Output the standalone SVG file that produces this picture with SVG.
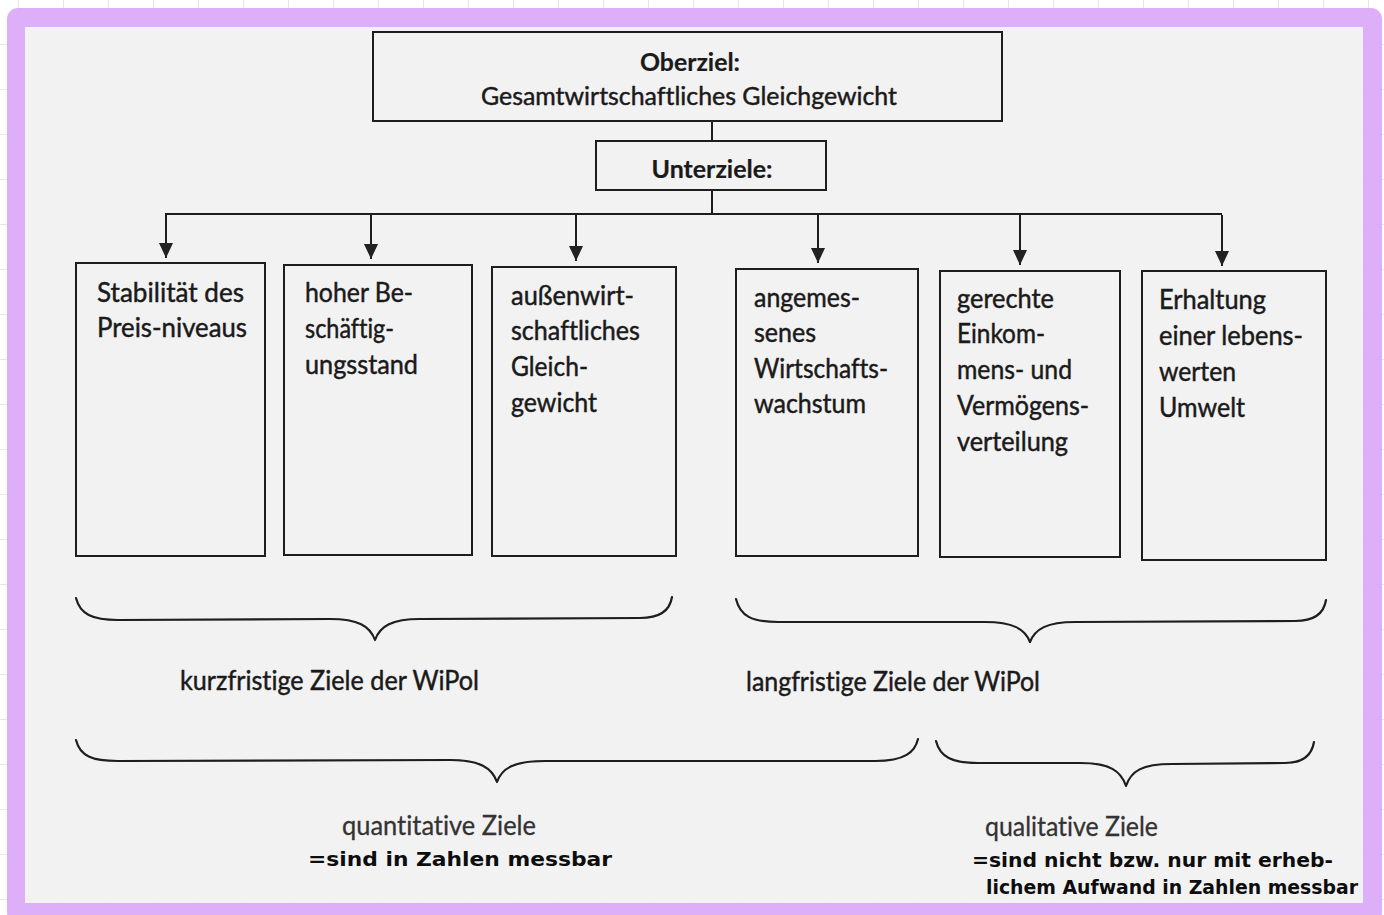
<svg xmlns="http://www.w3.org/2000/svg" width="1384" height="915" viewBox="0 0 1384 915">
  <defs>
    <pattern id="grid" x="18" y="0" width="45" height="45" patternUnits="userSpaceOnUse">
      <path d="M0,0 V45 M0,45 H45" fill="none" stroke="#cfcfcf" stroke-width="1"/>
    </pattern>
    <marker id="arrDown" markerUnits="userSpaceOnUse" markerWidth="16" markerHeight="14" refX="15" refY="7" orient="auto" viewBox="0 0 16 14">
      <path d="M0,0 L15,7 L0,14 Z" fill="#222"/>
    </marker>
  </defs>
  <style>
    .box { fill: none; stroke: #1e1e1e; stroke-width: 2; }
    .conn { fill: none; stroke: #1e1e1e; stroke-width: 2; }
    .brace { fill: none; stroke: #1e1e1e; stroke-width: 2.2; stroke-linecap: round; stroke-linejoin: round; }
    .t, .h { font-family: Lato, "Liberation Sans", "DejaVu Sans", sans-serif; fill: #1a1a1a; stroke: #1a1a1a; stroke-width: 0.45; font-variant-ligatures: none; font-feature-settings: "liga" 0, "clig" 0; }
    .t { font-size: 26px; }
    .h { font-size: 25px; }
    .bold { font-weight: bold; stroke-width: 0.2; }
    .g { fill: #333333; stroke: #333333; stroke-width: 0.3; }
    .hw { font-family: "DejaVu Sans", "Liberation Sans", sans-serif; font-weight: bold; font-size: 20px; fill: #0d0d0d; }
  </style>

  <!-- background -->
  <rect x="0" y="0" width="1384" height="915" fill="#ffffff"/>
  <rect x="0" y="0" width="1384" height="915" fill="url(#grid)"/>
  <rect x="7" y="8" width="1375" height="915" rx="11" ry="11" fill="#dba9f9" fill-opacity="0.93"/>
  <rect x="25" y="27" width="1338" height="876" fill="#f3f2f2"/>

  <!-- connectors -->
  <g id="connectors">
    <line class="conn" x1="712" y1="121" x2="712" y2="141"/>
    <line class="conn" x1="712" y1="190" x2="712" y2="214"/>
    <polyline class="conn" points="166,214 1222,214"/>
    <line class="conn" x1="166" y1="213" x2="166" y2="258" marker-end="url(#arrDown)"/>
    <line class="conn" x1="371" y1="213" x2="371" y2="259" marker-end="url(#arrDown)"/>
    <line class="conn" x1="576" y1="214" x2="576" y2="261" marker-end="url(#arrDown)"/>
    <line class="conn" x1="818" y1="214" x2="818" y2="263" marker-end="url(#arrDown)"/>
    <line class="conn" x1="1020" y1="215" x2="1020" y2="265" marker-end="url(#arrDown)"/>
    <line class="conn" x1="1222" y1="215" x2="1222" y2="266" marker-end="url(#arrDown)"/>
  </g>

  <!-- top nodes -->
  <g id="oberziel">
    <rect class="box" x="373" y="32" width="629" height="89"/>
    <text class="h bold" x="690" y="71" text-anchor="middle" textLength="100" lengthAdjust="spacingAndGlyphs">Oberziel:</text>
    <text class="h" x="689" y="105" text-anchor="middle" textLength="416" lengthAdjust="spacingAndGlyphs">Gesamtwirtschaftliches Gleichgewicht</text>
  </g>
  <g id="unterziele">
    <rect class="box" x="596" y="141" width="230" height="49"/>
    <text class="h bold" x="712" y="178" text-anchor="middle" textLength="121" lengthAdjust="spacingAndGlyphs">Unterziele:</text>
  </g>

  <!-- goal boxes -->
  <g id="preisniveau">
    <rect class="box" x="76" y="263" width="189" height="293"/>
    <text class="t" x="97" y="302" textLength="147" lengthAdjust="spacingAndGlyphs">Stabilität des</text>
    <text class="t" x="97" y="337" textLength="150" lengthAdjust="spacingAndGlyphs">Preis-niveaus</text>
  </g>
  <g id="beschaeftigung">
    <rect class="box" x="284" y="265" width="188" height="290"/>
    <text class="t" x="305" y="302" textLength="108" lengthAdjust="spacingAndGlyphs">hoher Be-</text>
    <text class="t" x="305" y="338" textLength="89" lengthAdjust="spacingAndGlyphs">schäftig-</text>
    <text class="t" x="305" y="374" textLength="113" lengthAdjust="spacingAndGlyphs">ungsstand</text>
  </g>
  <g id="aussenwirtschaft">
    <rect class="box" x="492" y="267" width="184" height="289"/>
    <text class="t" x="511" y="305" textLength="123" lengthAdjust="spacingAndGlyphs">außenwirt-</text>
    <text class="t" x="511" y="340" textLength="129" lengthAdjust="spacingAndGlyphs">schaftliches</text>
    <text class="t" x="511" y="376" textLength="77" lengthAdjust="spacingAndGlyphs">Gleich-</text>
    <text class="t" x="511" y="412" textLength="86" lengthAdjust="spacingAndGlyphs">gewicht</text>
  </g>
  <g id="wachstum">
    <rect class="box" x="736" y="269" width="182" height="287"/>
    <text class="t" x="754" y="307" textLength="106" lengthAdjust="spacingAndGlyphs">angemes-</text>
    <text class="t" x="754" y="342" textLength="62" lengthAdjust="spacingAndGlyphs">senes</text>
    <text class="t" x="754" y="378" textLength="134" lengthAdjust="spacingAndGlyphs">Wirtschafts-</text>
    <text class="t" x="754" y="413" textLength="112" lengthAdjust="spacingAndGlyphs">wachstum</text>
  </g>
  <g id="verteilung">
    <rect class="box" x="940" y="271" width="180" height="286"/>
    <text class="t" x="957" y="308" textLength="97" lengthAdjust="spacingAndGlyphs">gerechte</text>
    <text class="t" x="957" y="343" textLength="88" lengthAdjust="spacingAndGlyphs">Einkom-</text>
    <text class="t" x="957" y="379" textLength="115" lengthAdjust="spacingAndGlyphs">mens- und</text>
    <text class="t" x="957" y="415" textLength="132" lengthAdjust="spacingAndGlyphs">Vermögens-</text>
    <text class="t" x="957" y="451" textLength="111" lengthAdjust="spacingAndGlyphs">verteilung</text>
  </g>
  <g id="umwelt">
    <rect class="box" x="1142" y="271" width="184" height="289"/>
    <text class="t" x="1159" y="309" textLength="107" lengthAdjust="spacingAndGlyphs">Erhaltung</text>
    <text class="t" x="1159" y="345" textLength="144" lengthAdjust="spacingAndGlyphs">einer lebens-</text>
    <text class="t" x="1159" y="381" textLength="77" lengthAdjust="spacingAndGlyphs">werten</text>
    <text class="t" x="1159" y="417" textLength="86" lengthAdjust="spacingAndGlyphs">Umwelt</text>
  </g>

  <!-- braces -->
  <g id="brace-kurzfristig">
    <path class="brace" d="M76,598 C80,614 92,620 118,620 L330,619 C358,619 370,626 375,640 C380,626 392,619 420,619 L640,618 C660,618 670,610 672,597"/>
    <text class="t" x="180" y="690" textLength="299" lengthAdjust="spacingAndGlyphs">kurzfristige Ziele der WiPol</text>
  </g>
  <g id="brace-langfristig">
    <path class="brace" d="M736,599 C740,616 752,622 778,622 L985,622 C1013,622 1025,629 1030,642 C1035,629 1047,622 1075,622 L1295,621 C1315,621 1324,613 1326,600"/>
    <text class="t" x="746" y="691" textLength="294" lengthAdjust="spacingAndGlyphs">langfristige Ziele der WiPol</text>
  </g>
  <g id="brace-quantitativ">
    <path class="brace" d="M76,740 C80,756 92,761 118,761 L450,760 C480,760 492,768 497,782 C502,768 514,761 545,761 L875,761 C905,761 915,752 918,739"/>
    <text class="t g" x="342" y="835" textLength="194" lengthAdjust="spacingAndGlyphs">quantitative Ziele</text>
    <text class="hw" x="308" y="866" textLength="304" lengthAdjust="spacingAndGlyphs">=sind in Zahlen messbar</text>
  </g>
  <g id="brace-qualitativ">
    <path class="brace" d="M936,741 C940,757 952,763 978,763 L1080,763 C1110,763 1121,771 1126,786 C1131,771 1142,764 1172,764 L1285,763 C1305,763 1312,754 1314,742"/>
    <text class="t g" x="985" y="836" textLength="173" lengthAdjust="spacingAndGlyphs">qualitative Ziele</text>
    <text class="hw" x="972" y="867" textLength="361" lengthAdjust="spacingAndGlyphs">=sind nicht bzw. nur mit erheb-</text>
    <text class="hw" x="986" y="894" textLength="372" lengthAdjust="spacingAndGlyphs">lichem Aufwand in Zahlen messbar</text>
  </g>
</svg>
